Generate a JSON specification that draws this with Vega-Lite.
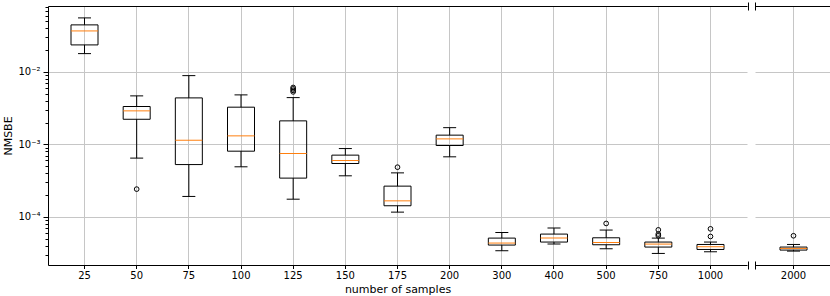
{
  "$schema": "https://vega.github.io/schema/vega-lite/v6.json",
  "padding": {"left": 2, "top": 1, "right": 1, "bottom": 0},
  "spacing": 5,
  "datasets": {
    "boxes": [
      {"samples": "25", "panel": "main", "lo": 0.0179, "q1": 0.0236, "med": 0.0368, "q3": 0.0446, "hi": 0.0557},
      {"samples": "50", "panel": "main", "lo": 0.000646, "q1": 0.00222, "med": 0.0029, "q3": 0.00333, "hi": 0.00467},
      {"samples": "75", "panel": "main", "lo": 0.000191, "q1": 0.000526, "med": 0.00114, "q3": 0.00438, "hi": 0.00889},
      {"samples": "100", "panel": "main", "lo": 0.00049, "q1": 0.000805, "med": 0.00131, "q3": 0.00326, "hi": 0.00482},
      {"samples": "125", "panel": "main", "lo": 0.000175, "q1": 0.000342, "med": 0.000747, "q3": 0.00211, "hi": 0.00442},
      {"samples": "150", "panel": "main", "lo": 0.000368, "q1": 0.000544, "med": 0.000598, "q3": 0.00071, "hi": 0.000875},
      {"samples": "175", "panel": "main", "lo": 0.000116, "q1": 0.000142, "med": 0.000166, "q3": 0.000265, "hi": 0.000404},
      {"samples": "200", "panel": "main", "lo": 0.000673, "q1": 0.000964, "med": 0.00119, "q3": 0.00134, "hi": 0.0017},
      {"samples": "300", "panel": "main", "lo": 0.000034, "q1": 0.0000407, "med": 0.0000434, "q3": 0.0000508, "hi": 0.0000607},
      {"samples": "400", "panel": "main", "lo": 0.000042, "q1": 0.0000448, "med": 0.0000508, "q3": 0.0000577, "hi": 0.0000698},
      {"samples": "500", "panel": "main", "lo": 0.0000362, "q1": 0.0000411, "med": 0.0000442, "q3": 0.0000513, "hi": 0.0000656},
      {"samples": "750", "panel": "main", "lo": 0.0000312, "q1": 0.0000382, "med": 0.000042, "q3": 0.0000448, "hi": 0.0000508},
      {"samples": "1000", "panel": "main", "lo": 0.0000329, "q1": 0.0000354, "med": 0.0000386, "q3": 0.0000415, "hi": 0.0000448},
      {"samples": "2000", "panel": "break", "lo": 0.0000336, "q1": 0.0000347, "med": 0.0000366, "q3": 0.0000382, "hi": 0.0000415}
    ],
    "outliers": [
      {"samples": "50", "panel": "main", "value": 0.000241},
      {"samples": "125", "panel": "main", "value": 0.0053},
      {"samples": "125", "panel": "main", "value": 0.00556},
      {"samples": "125", "panel": "main", "value": 0.00583},
      {"samples": "125", "panel": "main", "value": 0.0061},
      {"samples": "175", "panel": "main", "value": 0.000484},
      {"samples": "500", "panel": "main", "value": 0.0000809},
      {"samples": "750", "panel": "main", "value": 0.0000547},
      {"samples": "750", "panel": "main", "value": 0.0000577},
      {"samples": "750", "panel": "main", "value": 0.000066},
      {"samples": "1000", "panel": "main", "value": 0.0000535},
      {"samples": "1000", "panel": "main", "value": 0.0000682},
      {"samples": "2000", "panel": "break", "value": 0.0000547}
    ]
  },
  "hconcat": [
    {
      "width": 699,
      "height": 259,
      "layer": [
        {
          "data": {"name": "boxes"},
          "transform": [{"filter": "datum.panel == 'main'"}],
          "encoding": {
            "x": {
              "field": "samples", "type": "nominal", "sort": null,
              "scale": {"type": "band", "domain": ["25","50","75","100","125","150","175","200","300","400","500","750","1000"], "paddingInner": 0, "paddingOuter": 0.2},
              "axis": {"orient": "bottom", "labelAngle": 0, "title": "number of samples", "grid": true, "ticks": true, "tickSize": 3.5, "domain": true, "labelPadding": 2, "titlePadding": 3}
            }
          },
          "layer": [
            {
              "mark": {"type": "rule", "color": "black", "strokeWidth": 1},
              "encoding": {
                "y": {"field": "lo", "type": "quantitative", "scale": {"type": "log", "domain": [0.0000216, 0.0813], "nice": false, "zero": false},
                  "axis": {
                    "title": "NMSBE",
                    "values": [0.00003,0.00004,0.00005,0.00006,0.00007,0.00008,0.00009,0.0001,0.0002,0.0003,0.0004,0.0005,0.0006,0.0007,0.0008,0.0009,0.001,0.002,0.003,0.004,0.005,0.006,0.007,0.008,0.009,0.01,0.02,0.03,0.04,0.05,0.06,0.07,0.08],
                    "labelExpr": "datum.value == 0.01 ? '10⁻²' : datum.value == 0.001 ? '10⁻³' : datum.value == 0.0001 ? '10⁻⁴' : ''",
                    "labelOverlap": false,
                    "labelBound": false,
                    "tickSize": {"condition": {"test": "datum.value == 0.01 || datum.value == 0.001 || datum.value == 0.0001", "value": 5}, "value": 3},
                    "gridOpacity": {"condition": {"test": "datum.value == 0.01 || datum.value == 0.001 || datum.value == 0.0001", "value": 1}, "value": 0},
                    "grid": true,
                    "domain": true,
                    "labelPadding": 3,
                    "titlePadding": 4
                  }
                },
                "y2": {"field": "q1"}
              }
            },
            {
              "mark": {"type": "rule", "color": "black", "strokeWidth": 1},
              "encoding": {
                "y": {"field": "q3", "type": "quantitative"},
                "y2": {"field": "hi"}
              }
            },
            {
              "mark": {"type": "tick", "color": "black", "size": 13, "thickness": 1, "opacity": 1},
              "encoding": {"y": {"field": "lo", "type": "quantitative"}}
            },
            {
              "mark": {"type": "tick", "color": "black", "size": 13, "thickness": 1, "opacity": 1},
              "encoding": {"y": {"field": "hi", "type": "quantitative"}}
            },
            {
              "mark": {"type": "bar", "size": 27, "fillOpacity": 0, "stroke": "black", "strokeWidth": 1},
              "encoding": {
                "y": {"field": "q3", "type": "quantitative"},
                "y2": {"field": "q1"}
              }
            },
            {
              "mark": {"type": "tick", "color": "#ff7f0e", "size": 27, "thickness": 1, "opacity": 1},
              "encoding": {"y": {"field": "med", "type": "quantitative"}}
            },
            {
              "data": {"name": "outliers"},
              "transform": [{"filter": "datum.panel == 'main'"}],
              "mark": {"type": "point", "shape": "circle", "filled": false, "stroke": "black", "strokeWidth": 1, "size": 22, "opacity": 1},
              "encoding": {"y": {"field": "value", "type": "quantitative"}}
            }
          ]
        },
        {
          "data": {"name": "boxes"},
          "transform": [{"filter": "datum.panel == 'main'"}],
          "mark": {"type": "rule", "opacity": 0},
          "encoding": {
            "x": {
              "field": "samples", "type": "nominal", "sort": null,
              "axis": {"orient": "top", "ticks": false, "domain": true, "labels": false, "grid": false, "title": null}
            }
          }
        },
        {
          "data": {"name": "boxes"},
          "transform": [{"filter": "datum.panel == 'main'"}],
          "mark": {"type": "rule", "opacity": 0},
          "encoding": {
            "x": {
              "field": "samples", "type": "nominal", "sort": null,
              "axis": {"orient": "top", "values": ["1000"], "tickOffset": 37.5, "offset": -4, "tickSize": 8, "ticks": true, "domain": false, "labels": false, "grid": false, "title": null}
            }
          }
        },
        {
          "data": {"name": "boxes"},
          "transform": [{"filter": "datum.panel == 'main'"}],
          "mark": {"type": "rule", "opacity": 0},
          "encoding": {
            "x": {
              "field": "samples", "type": "nominal", "sort": null,
              "axis": {"orient": "bottom", "values": ["1000"], "tickOffset": 37.5, "offset": -4, "tickSize": 8, "ticks": true, "domain": false, "labels": false, "grid": false, "title": null}
            }
          }
        }
      ],
      "resolve": {"axis": {"x": "independent"}}
    },
    {
      "width": 77,
      "height": 259,
      "layer": [
        {
          "data": {"name": "boxes"},
          "transform": [{"filter": "datum.panel == 'break'"}],
          "encoding": {
            "x": {
              "field": "samples", "type": "nominal", "sort": null,
              "scale": {"type": "band", "domain": ["2000"], "paddingInner": 0, "paddingOuter": 0.2},
              "axis": {"orient": "bottom", "labelAngle": 0, "title": null, "grid": true, "ticks": true, "tickSize": 3.5, "domain": true, "labelPadding": 2}
            }
          },
          "layer": [
            {
              "mark": {"type": "rule", "color": "black", "strokeWidth": 1},
              "encoding": {
                "y": {"field": "lo", "type": "quantitative", "scale": {"type": "log", "domain": [0.0000216, 0.0813], "nice": false, "zero": false},
                  "axis": {"title": null, "values": [0.0001, 0.001, 0.01], "labels": false, "ticks": false, "domain": false, "grid": true, "minExtent": 0, "maxExtent": 0}
                },
                "y2": {"field": "q1"}
              }
            },
            {
              "mark": {"type": "rule", "color": "black", "strokeWidth": 1},
              "encoding": {
                "y": {"field": "q3", "type": "quantitative"},
                "y2": {"field": "hi"}
              }
            },
            {
              "mark": {"type": "tick", "color": "black", "size": 13, "thickness": 1, "opacity": 1},
              "encoding": {"y": {"field": "lo", "type": "quantitative"}}
            },
            {
              "mark": {"type": "tick", "color": "black", "size": 13, "thickness": 1, "opacity": 1},
              "encoding": {"y": {"field": "hi", "type": "quantitative"}}
            },
            {
              "mark": {"type": "bar", "size": 27, "fillOpacity": 0, "stroke": "black", "strokeWidth": 1},
              "encoding": {
                "y": {"field": "q3", "type": "quantitative"},
                "y2": {"field": "q1"}
              }
            },
            {
              "mark": {"type": "tick", "color": "#ff7f0e", "size": 27, "thickness": 1, "opacity": 1},
              "encoding": {"y": {"field": "med", "type": "quantitative"}}
            },
            {
              "data": {"name": "outliers"},
              "transform": [{"filter": "datum.panel == 'break'"}],
              "mark": {"type": "point", "shape": "circle", "filled": false, "stroke": "black", "strokeWidth": 1, "size": 22, "opacity": 1},
              "encoding": {"y": {"field": "value", "type": "quantitative"}}
            }
          ]
        },
        {
          "data": {"name": "boxes"},
          "transform": [{"filter": "datum.panel == 'break'"}],
          "mark": {"type": "point", "opacity": 0},
          "encoding": {
            "x": {
              "field": "samples", "type": "nominal", "sort": null,
              "axis": {"orient": "top", "ticks": false, "domain": true, "labels": false, "grid": false, "title": null}
            },
            "y": {
              "field": "med", "type": "quantitative",
              "axis": {"orient": "right", "title": null, "labels": false, "ticks": false, "domain": true, "grid": false, "minExtent": 0, "maxExtent": 0}
            }
          }
        },
        {
          "data": {"name": "boxes"},
          "transform": [{"filter": "datum.panel == 'break'"}],
          "mark": {"type": "rule", "opacity": 0},
          "encoding": {
            "x": {
              "field": "samples", "type": "nominal", "sort": null,
              "axis": {"orient": "top", "values": ["2000"], "tickOffset": -38.5, "offset": -4, "tickSize": 8, "ticks": true, "domain": false, "labels": false, "grid": false, "title": null}
            }
          }
        },
        {
          "data": {"name": "boxes"},
          "transform": [{"filter": "datum.panel == 'break'"}],
          "mark": {"type": "rule", "opacity": 0},
          "encoding": {
            "x": {
              "field": "samples", "type": "nominal", "sort": null,
              "axis": {"orient": "bottom", "values": ["2000"], "tickOffset": -38.5, "offset": -4, "tickSize": 8, "ticks": true, "domain": false, "labels": false, "grid": false, "title": null}
            }
          }
        }
      ],
      "resolve": {"axis": {"x": "independent", "y": "independent"}}
    }
  ],
  "config": {
    "font": "DejaVu Sans",
    "view": {"stroke": null},
    "axis": {
      "labelFont": "DejaVu Sans",
      "labelFontSize": 10,
      "labelColor": "black",
      "titleFont": "DejaVu Sans",
      "titleFontSize": 11,
      "titleFontWeight": "normal",
      "titleColor": "black",
      "domainColor": "black",
      "domainWidth": 1,
      "tickColor": "black",
      "tickWidth": 1,
      "gridColor": "#c6c6c6",
      "gridWidth": 1
    }
  }
}
